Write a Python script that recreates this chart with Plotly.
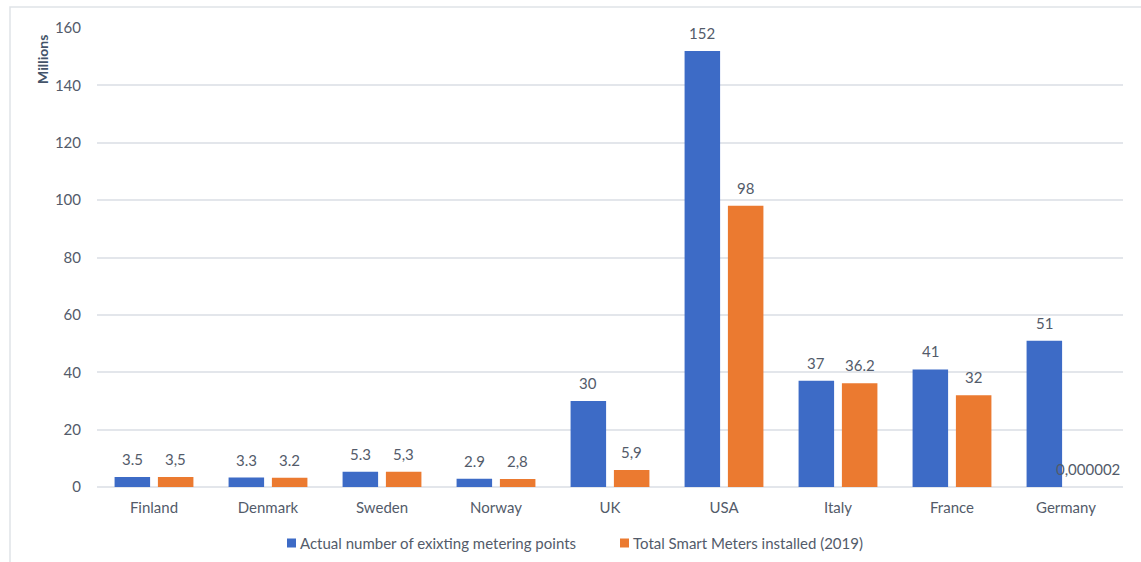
import plotly.graph_objects as go

countries = ["Finland", "Denmark", "Sweden", "Norway", "UK", "USA", "Italy", "France", "Germany"]
metering_points = [3.5, 3.3, 5.3, 2.9, 30, 152, 37, 41, 51]
metering_labels = ["3.5", "3.3", "5.3", "2.9", "30", "152", "37", "41", "51"]
smart_meters = [3.5, 3.2, 5.3, 2.8, 5.9, 98, 36.2, 32, 0.000002]
smart_labels = ["3,5", "3.2", "5,3", "2,8", "5,9", "98", "36.2", "32", "0,000002"]
y_ticks = [0, 20, 40, 60, 80, 100, 120, 140, 160]

series = [
    ("Actual number of exixting metering points", metering_points, metering_labels, "#3d6bc6"),
    ("Total Smart Meters installed (2019)", smart_meters, smart_labels, "#eb7a30"),
]

W, H = 1141, 562
ML, MR, MT, MB = 97, 18, 28, 75
BARGAP, GROUPGAP = 0.24, 0.18

FONT = "Lato, Open Sans, sans-serif"
TEXT_COLOR = "#535b6a"
GRID_COLOR = "#e3e6eb"
FS = 15

plot_w = W - ML - MR
plot_h = H - MT - MB
cat_w = plot_w / len(countries)
slot_offset = cat_w * (1 - BARGAP) / 4  # centre of each bar relative to the category centre


def px_to_paper_x(px):
    return (px - ML) / plot_w


def px_to_paper_y(py):
    return (H - MB - py) / plot_h


fig = go.Figure()
annotations = []
for i, (name, values, labels, color) in enumerate(series):
    fig.add_trace(go.Bar(
        x=countries, y=values, name=name,
        marker=dict(color=color, line=dict(width=0)),
        showlegend=False,
    ))
    shift = -slot_offset if i == 0 else slot_offset
    for c, v, t in zip(countries, values, labels):
        annotations.append(dict(
            x=c, y=v, xref="x", yref="y", text=t, showarrow=False,
            xshift=shift, yshift=7, yanchor="bottom", xanchor="center",
            font=dict(size=FS, color=TEXT_COLOR, family=FONT),
        ))

# y-axis title
annotations.append(dict(text="<b>Millions</b>", xref="paper", yref="paper",
                        x=px_to_paper_x(42), y=px_to_paper_y(60), textangle=-90,
                        showarrow=False, font=dict(size=14, color="#44546a", family=FONT),
                        xanchor="center", yanchor="middle"))

# outer frame
shapes = [dict(type="rect", xref="paper", yref="paper",
               x0=px_to_paper_x(10), x1=px_to_paper_x(1160),
               y0=px_to_paper_y(575), y1=px_to_paper_y(7),
               line=dict(color="#dfe3e8", width=1.5), fillcolor="rgba(0,0,0,0)", layer="below")]

# legend: small colour squares followed by the series names
legend_x = [287, 620]
legend_y = 543
for (name, _, _, color), lx in zip(series, legend_x):
    shapes.append(dict(type="rect", xref="paper", yref="paper",
                       x0=px_to_paper_x(lx), x1=px_to_paper_x(lx + 9),
                       y0=px_to_paper_y(legend_y + 4.5), y1=px_to_paper_y(legend_y - 4.5),
                       line=dict(width=0), fillcolor=color))
    annotations.append(dict(text=name, xref="paper", yref="paper",
                            x=px_to_paper_x(lx + 11), y=px_to_paper_y(legend_y),
                            xanchor="left", yanchor="middle", showarrow=False,
                            font=dict(size=FS, color=TEXT_COLOR, family=FONT)))

fig.update_layout(
    width=W, height=H,
    margin=dict(l=ML, r=MR, t=MT, b=MB, autoexpand=False),
    paper_bgcolor="white", plot_bgcolor="white",
    font=dict(family=FONT, size=FS, color=TEXT_COLOR),
    barmode="group", bargap=BARGAP, bargroupgap=GROUPGAP,
    showlegend=False,
    xaxis=dict(showgrid=False, showline=False, ticks="outside", ticklen=7,
               tickcolor="rgba(0,0,0,0)", tickfont=dict(size=FS, color=TEXT_COLOR)),
    yaxis=dict(range=[0, 160], tickvals=y_ticks, showgrid=True, gridcolor=GRID_COLOR,
               gridwidth=1.5, zeroline=True, zerolinecolor=GRID_COLOR, zerolinewidth=1.5,
               ticks="outside", ticklen=12, tickcolor="rgba(0,0,0,0)",
               tickfont=dict(size=FS, color=TEXT_COLOR)),
    shapes=shapes,
    annotations=annotations,
)

fig.write_html("out.html")
